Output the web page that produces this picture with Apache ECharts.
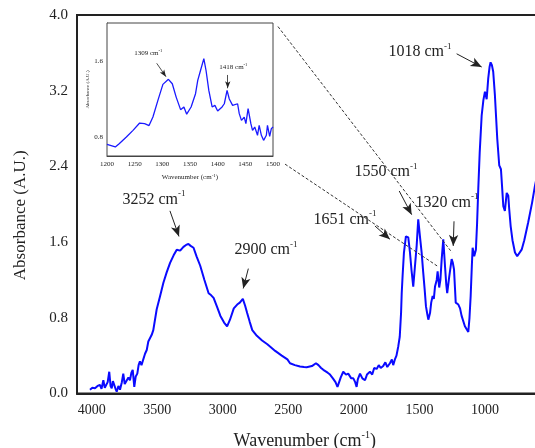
<!DOCTYPE html>
<html>
<head>
<meta charset="utf-8">
<script src="https://cdn.jsdelivr.net/npm/echarts@6/dist/echarts.min.js"></script>
<style>html,body{margin:0;padding:0;background:#fff}#c{width:535px;height:448px}</style>
</head>
<body>
<div id="c"></div>
<script>
// Main spectrum
const mainWavenumber = [4013,3995,3975,3955,3937,3925,3911,3900,3891,3878,3866,3856,3847,3838,3828,3818,3809,3796,3784,3770,3759,3748,3733,3720,3708,3697,3687,3675,3664,3652,3642,3632,3620,3606,3593,3580,3568,3555,3542,3530,3504,3478,3453,3428,3402,3375,3351,3338,3325,3300,3280,3262,3245,3223,3200,3172,3140,3108,3090,3070,3045,3018,2990,2967,2945,2916,2890,2870,2847,2830,2814,2795,2775,2740,2700,2660,2600,2550,2507,2487,2450,2411,2380,2360,2320,2289,2270,2250,2233,2200,2182,2160,2140,2125,2119,2100,2081,2060,2043,2020,2004,1990,1979,1970,1953,1935,1915,1900,1877,1860,1845,1826,1810,1795,1776,1760,1745,1725,1710,1700,1687,1675,1661,1650,1640,1635,1628,1618,1603,1595,1585,1572,1560,1547,1534,1521,1509,1496,1483,1471,1460,1450,1440,1432,1419,1410,1399,1390,1381,1368,1361,1349,1340,1330,1318,1305,1295,1288,1280,1272,1254,1245,1236,1223,1203,1190,1178,1153,1127,1118,1109,1100,1094,1082,1069,1060,1051,1040,1025,1012,1000,987,975,965,957,947,937,924,915,906,891,878,870,860,848,834,822,815,804,790,771,754,740,720,700,670,640,619,600];
const mainAbsorbance = [0.04,0.06,0.055,0.08,0.09,0.05,0.14,0.06,0.07,0.12,0.23,0.08,0.055,0.13,0.14,0.05,0.02,0.08,0.04,0.12,0.21,0.10,0.09,0.17,0.14,0.22,0.25,0.07,0.18,0.21,0.30,0.34,0.30,0.32,0.42,0.46,0.55,0.56,0.62,0.67,0.89,1.03,1.17,1.28,1.38,1.46,1.52,1.50,1.51,1.55,1.57,1.58,1.56,1.54,1.45,1.35,1.20,1.06,1.04,1.01,0.92,0.82,0.75,0.71,0.78,0.90,0.94,0.96,1.00,0.93,0.85,0.76,0.67,0.61,0.56,0.52,0.45,0.40,0.36,0.32,0.30,0.285,0.28,0.278,0.29,0.32,0.30,0.27,0.25,0.22,0.20,0.16,0.12,0.07,0.09,0.17,0.23,0.20,0.21,0.16,0.16,0.12,0.07,0.15,0.21,0.16,0.14,0.20,0.23,0.20,0.27,0.26,0.30,0.27,0.29,0.33,0.28,0.32,0.36,0.30,0.36,0.40,0.50,0.60,0.85,1.06,1.25,1.49,1.66,1.64,1.65,1.49,1.30,1.13,1.15,1.56,1.84,1.66,1.49,1.28,1.10,0.92,0.84,0.78,0.85,0.96,1.03,1.00,1.13,1.20,1.29,1.12,1.20,1.42,1.63,1.35,1.15,1.06,1.15,1.24,1.42,1.38,1.31,0.96,0.94,0.90,0.82,0.71,0.65,0.80,1.03,1.35,1.54,1.45,1.52,1.80,2.16,2.55,2.94,3.10,3.19,3.11,3.33,3.45,3.50,3.47,3.40,3.15,2.92,2.69,2.41,2.37,2.20,1.98,1.93,2.12,2.09,1.95,1.77,1.62,1.49,1.45,1.46,1.52,1.62,1.81,2.02,2.19,2.32];

// Inset (1200-1500 cm-1)
const insetWavenumber = [1200,1215,1222,1235,1247,1259,1268,1276,1283,1292,1301,1311,1318,1325,1333,1339,1344,1352,1360,1364,1369,1375,1379,1384,1390,1395,1400,1408,1412,1417,1421,1427,1430,1436,1439,1443,1448,1451,1455,1460,1463,1467,1472,1475,1479,1483,1488,1490,1494,1497,1500];
const insetAbsorbance = [0.723,0.695,0.73,0.80,0.87,0.947,0.94,0.92,1.01,1.186,1.354,1.407,1.36,1.22,1.088,1.116,1.04,1.116,1.256,1.396,1.50,1.625,1.50,1.29,1.116,1.133,1.074,1.116,1.15,1.29,1.20,1.133,1.116,1.15,1.046,0.975,1.01,0.94,1.098,0.94,0.87,0.905,0.818,0.923,0.818,0.765,0.818,0.923,0.807,0.888,0.905];

// Tick labels
const mainXTicks = [4000,3500,3000,2500,2000,1500,1000];
const mainYTicks = ['0.0','0.8','1.6','2.4','3.2','4.0'];
const insetXTicks = [1200,1250,1300,1350,1400,1450,1500];
const insetYTicks = [0.8,1.6];

// Peak annotations: [label, textX, textY, arrowFromX, arrowFromY, arrowToX, arrowToY]
const mainPeaks = [
  ['3252', 3525, 2.05, 3403, 1.93, 3334, 1.66],
  ['2900', 2670, 1.52, 2805, 1.32, 2844, 1.11],
  ['1018', 1496, 3.61, 1216, 3.59, 1025, 3.45],
  ['1550', 1755, 2.34, 1654, 2.14, 1559, 1.89],
  ['1320', 1290, 2.02, 1236, 1.82, 1242, 1.56],
  ['1651', 2068, 1.84, 1839, 1.77, 1725, 1.63]
];
const insetPeaks = [
  ['1309', 1274.6, 1.687, 1289.8, 1.576, 1306.6, 1.435],
  ['1418', 1428.3, 1.534, 1418.2, 1.453, 1418.2, 1.313]
];
// Zoom guide lines (dashed): [fromX, fromY, toX, toY]
const guideLines = [
  [2579, 3.878, 1252, 1.491],
  [2525, 2.424, 1358, 1.342]
];

const serif = '"Liberation Serif","DejaVu Serif",serif';
const txt = '#222';

function pairs(xs, ys){ return xs.map((x,i)=>[x, ys[i]]); }

const mainMarkLines = [];
mainPeaks.forEach(p => {
  mainMarkLines.push([{coord:[p[3],p[4]], symbol:'none'},{coord:[p[5],p[6]], symbol:'arrow', symbolSize:[7,11]}]);
});
guideLines.forEach(g => {
  mainMarkLines.push([{coord:[g[0],g[1]], symbol:'none', lineStyle:{type:[3,2], width:1, color:'#333'}},{coord:[g[2],g[3]], symbol:'none'}]);
});
const insetMarkLines = insetPeaks.map(p => [{coord:[p[3],p[4]], symbol:'none'},{coord:[p[5],p[6]], symbol:'arrow', symbolSize:[4,7]}]);

function peakLabels(list){
  return list.map(p => ({
    coord:[p[1],p[2]],
    value: p[0],
    label:{formatter: '{b|' + p[0] + ' cm}{s|-1}'}
  }));
}

const option = {
  animation: false,
  backgroundColor: '#fff',
  grid: [
    {left:77, top:15, width:473.5, height:378.5, show:true, borderColor:'#222', borderWidth:2, backgroundColor:'transparent', outerBoundsMode:'none', containLabel:false},
    {left:107, top:23, width:166, height:133, show:true, borderColor:'#444', borderWidth:1, backgroundColor:'#fff', z:5, outerBoundsMode:'none', containLabel:false}
  ],
  xAxis: [
    {type:'value', gridIndex:0, inverse:true, min:500, max:4112, interval:500,
     axisLine:{show:true, lineStyle:{color:'#222', width:2}}, axisTick:{show:false}, splitLine:{show:false},
     axisLabel:{margin:10, fontFamily:serif, fontSize:14, color:txt, showMaxLabel:false,
       formatter: v => mainXTicks.indexOf(v) >= 0 ? String(v) : ''},
     name:'{a|Wavenumber (cm}{s|-1}{a|)}', nameLocation:'middle', nameGap:37,
     nameTextStyle:{padding:[0,18,0,0], rich:{a:{fontFamily:serif, fontSize:18, color:txt, lineHeight:22}, s:{fontFamily:serif, fontSize:10, color:txt, verticalAlign:'top', lineHeight:12}}}},
    {type:'value', gridIndex:1, min:1200, max:1500, interval:50,
     axisLine:{show:true, lineStyle:{color:'#444', width:1}}, axisTick:{show:false}, splitLine:{show:false},
     axisLabel:{margin:5, fontFamily:serif, fontSize:7, color:txt,
       formatter: v => insetXTicks.indexOf(v) >= 0 ? String(v) : ''},
     name:'{a|Wavenumber (cm}{s|-1}{a|)}', nameLocation:'middle', nameGap:17,
     nameTextStyle:{rich:{a:{fontFamily:serif, fontSize:7, color:txt, lineHeight:9}, s:{fontFamily:serif, fontSize:5, color:txt, verticalAlign:'top', lineHeight:5}}}}
  ],
  yAxis: [
    {type:'value', gridIndex:0, min:0, max:4, interval:0.8,
     axisLine:{show:true, lineStyle:{color:'#222', width:2}}, axisTick:{show:false}, splitLine:{show:false},
     axisLabel:{margin:9, fontFamily:serif, fontSize:15, color:txt,
       formatter: v => { const s = v.toFixed(1); return mainYTicks.indexOf(s) >= 0 ? s : ''; }},
     name:'Absorbance (A.U.)', nameLocation:'middle', nameGap:48,
     nameTextStyle:{fontFamily:serif, fontSize:17, color:txt, padding:[0,22,0,0]}},
    {type:'value', gridIndex:1, min:0.6, max:2.0, interval:0.2,
     axisLine:{show:true, lineStyle:{color:'#444', width:1}}, axisTick:{show:false}, splitLine:{show:false},
     axisLabel:{margin:4, fontFamily:serif, fontSize:7, color:txt,
       formatter: v => insetYTicks.some(t => Math.abs(t - v) < 1e-6) ? v.toFixed(1) : ''},
     name:'Absorbance (A.U.)', nameLocation:'middle', nameGap:17,
     nameTextStyle:{fontFamily:serif, fontSize:5, color:txt}}
  ],
  series: [
    {type:'line', xAxisIndex:0, yAxisIndex:0, data: pairs(mainWavenumber, mainAbsorbance),
     showSymbol:false, symbol:'none', lineStyle:{color:'#0a0aff', width:2}, z:3,
     markLine:{silent:true, symbol:['none','arrow'], label:{show:false},
       lineStyle:{color:'#222', width:1, type:'solid'}, data: mainMarkLines},
     markPoint:{silent:true, symbol:'rect', symbolSize:0,
       label:{show:true, position:'inside',
         rich:{b:{fontFamily:serif, fontSize:16, color:txt, lineHeight:20}, s:{fontFamily:serif, fontSize:9, color:txt, verticalAlign:'top', lineHeight:11}}},
       data: peakLabels(mainPeaks)}},
    {type:'line', xAxisIndex:1, yAxisIndex:1, data: pairs(insetWavenumber, insetAbsorbance),
     showSymbol:false, symbol:'none', lineStyle:{color:'#1a1aff', width:1.3}, z:6,
     markLine:{silent:true, symbol:['none','arrow'], label:{show:false},
       lineStyle:{color:'#222', width:0.8, type:'solid'}, data: insetMarkLines},
     markPoint:{silent:true, symbol:'rect', symbolSize:0,
       label:{show:true, position:'inside',
         rich:{b:{fontFamily:serif, fontSize:7, color:txt, lineHeight:9}, s:{fontFamily:serif, fontSize:4.5, color:txt, verticalAlign:'top', lineHeight:5}}},
       data: peakLabels(insetPeaks)}}
  ]
};

const chart = echarts.init(document.getElementById('c'), null, {renderer:'canvas'});
chart.setOption(option);
</script>
</body>
</html>
